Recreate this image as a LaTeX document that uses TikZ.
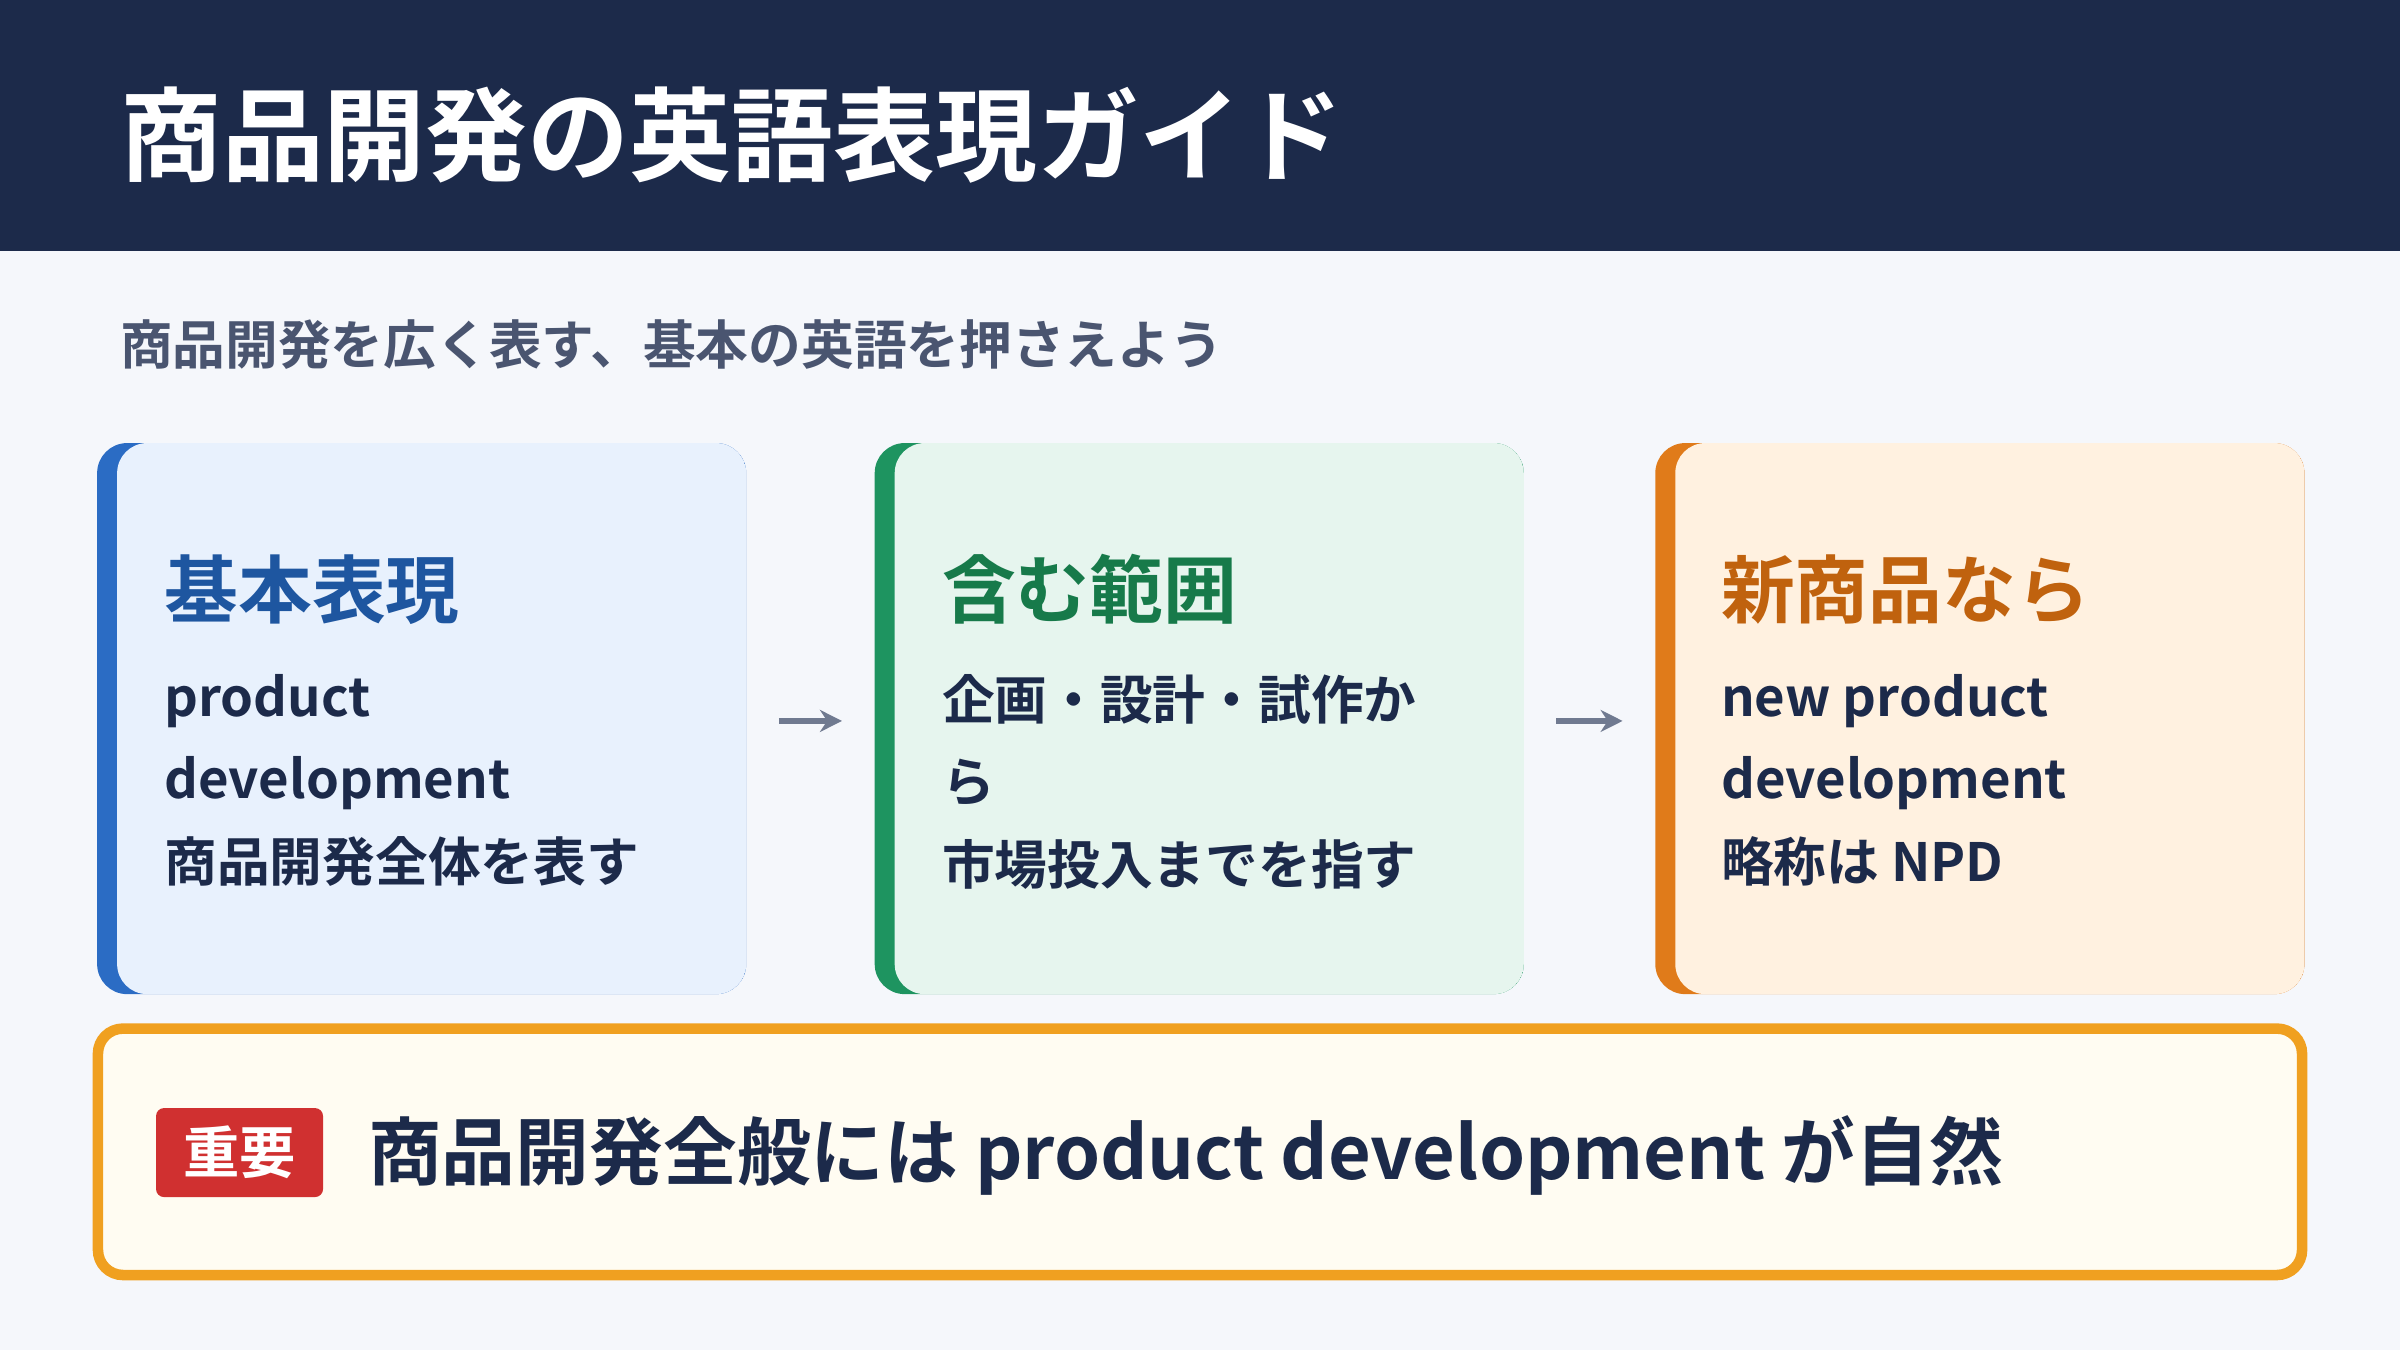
\documentclass[tikz,border=0pt]{standalone}
\usepackage{fontspec}
\setmainfont{Noto Sans CJK JP}[BoldFont={* Bold}]
\usetikzlibrary{arrows.meta,positioning}
\definecolor{navy}{HTML}{1C2A4A}
\definecolor{pagebg}{HTML}{F5F7FB}
\definecolor{subgray}{HTML}{4A5570}
\definecolor{arrowgray}{HTML}{707A90}
\definecolor{blueBar}{HTML}{2B6CC4}\definecolor{blueFill}{HTML}{E8F1FD}\definecolor{blueText}{HTML}{1E56A0}
\definecolor{greenBar}{HTML}{1E9460}\definecolor{greenFill}{HTML}{E6F5EE}\definecolor{greenText}{HTML}{177A4A}
\definecolor{orangeBar}{HTML}{E07B1A}\definecolor{orangeFill}{HTML}{FFF1E0}\definecolor{orangeText}{HTML}{C0620E}
\definecolor{noteBorder}{HTML}{F0A020}\definecolor{noteFill}{HTML}{FFFCF2}\definecolor{badgeRed}{HTML}{D03030}
\begin{document}
\begin{tikzpicture}[x=0.015306cm, y=-0.015306cm,
    every node/.style={font=\bfseries},
    card/.style 2 args={draw=none, fill=#1, rounded corners=0.3cm, minimum width=6.49cm,
      minimum height=5.51cm, anchor=north west, inner sep=0pt,
      path picture={\fill[#2, rounded corners=0.3cm] ([xshift=0.2cm]path picture bounding box.south west)
        rectangle (path picture bounding box.north east);}},
    cardtitle/.style={anchor=west, inner sep=0pt, font=\bfseries\fontsize{21}{25}\selectfont, text=#1},
    cardbody/.style={anchor=north west, inner sep=0pt, align=left, text=navy,
      font=\bfseries\fontsize{15}{23.5}\selectfont},
    flow/.style={-{Stealth[length=0.22cm,width=0.22cm]}, line width=1.6pt, draw=arrowgray,
      shorten >=0.32cm, shorten <=0.32cm}]
    % Background
    \fill[pagebg] (0,0) rectangle (1568,882);
    \useasboundingbox (0,0) rectangle (1568,882);
    \fill[navy] (0,0) rectangle (1568,164);
    \node[anchor=west, inner sep=0pt, text=white, font=\bfseries\fontsize{29}{34}\selectfont] (title) at (78,88) {商品開発の英語表現ガイド};
    \node[anchor=west, inner sep=0pt, text=subgray, font=\bfseries\fontsize{15}{18}\selectfont] (subtitle) at (78,225) {商品開発を広く表す、基本の英語を押さえよう};
    % Cards
    \node[card={blueBar}{blueFill}] (card1) at (63,289) {};
    \node[card={greenBar}{greenFill}] (card2) at (571,289) {};
    \node[card={orangeBar}{orangeFill}] (card3) at (1081,289) {};
    \node[cardtitle=blueText] (head1) at (107,385) {基本表現};
    \node[cardtitle=greenText] (head2) at (615,385) {含む範囲};
    \node[cardtitle=orangeText] (head3) at (1124,385) {新商品なら};
    \node[cardbody] (body1) at (107,440) {product\\development\\商品開発全体を表す};
    \node[cardbody] (body2) at (615,440) {企画・設計・試作か\\ら\\市場投入までを指す};
    \node[cardbody] (body3) at (1124,440) {new product\\development\\略称は NPD};
    % Arrows
    \draw[flow] (card1.east |- 0,471) -- (card2.west |- 0,471);
    \draw[flow] (card2.east |- 0,471) -- (card3.west |- 0,471);
    % Note
    \draw[noteBorder, fill=noteFill, line width=3pt, rounded corners=0.25cm] (64,672) rectangle (1504,833);
    \node[fill=badgeRed, rounded corners=0.08cm, minimum width=1.67cm, minimum height=0.89cm, text=white,
      font=\bfseries\fontsize{16}{19}\selectfont] (badge) at (156.5,753) {重要};
    \node[anchor=west, inner sep=0pt, text=navy, font=\bfseries\fontsize{21}{25}\selectfont] (note) at (240,755) {商品開発全般には product development が自然};
\end{tikzpicture}
\end{document}
